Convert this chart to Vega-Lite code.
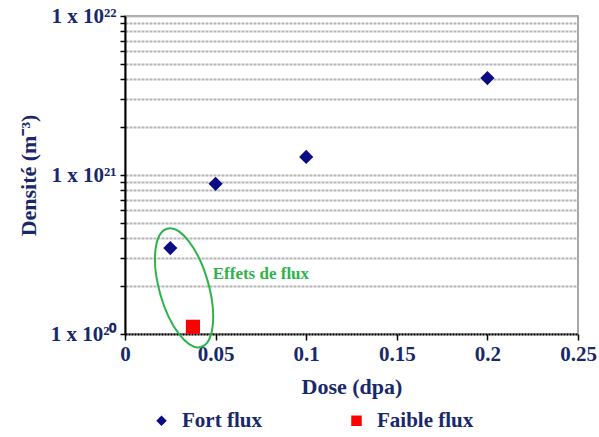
{
  "$schema": "https://vega.github.io/schema/vega-lite/v6.json",
  "width": 453,
  "height": 318,
  "autosize": "none",
  "padding": {"left": 125, "top": 16, "right": 21, "bottom": 103},
  "background": "white",
  "config": {
    "view": {"stroke": "#8c8c8c", "strokeWidth": 1.5},
    "font": "Liberation Serif",
    "axis": {"labelFont": "Liberation Serif", "titleFont": "Liberation Serif"},
    "legend": {"labelFont": "Liberation Serif"},
    "text": {"font": "Liberation Serif"}
  },
  "layer": [
    {
      "data": {"values": [
        {"dose": 0.025, "densite": 3.47e20, "serie": "Fort flux"},
        {"dose": 0.05, "densite": 8.8e20, "serie": "Fort flux"},
        {"dose": 0.1, "densite": 1.3e21, "serie": "Fort flux"},
        {"dose": 0.2, "densite": 4.07e21, "serie": "Fort flux"},
        {"dose": 0.0375, "densite": 1.11e20, "serie": "Faible flux"}
      ]},
      "mark": {"type": "point", "filled": true, "opacity": 1, "size": 200},
      "encoding": {
        "x": {
          "field": "dose", "type": "quantitative",
          "scale": {"domain": [0, 0.25], "nice": false, "zero": false},
          "axis": {
            "title": "Dose (dpa)",
            "values": [0, 0.05, 0.1, 0.15, 0.2, 0.25],
            "format": "~g",
            "grid": false,
            "labelFlush": false,
            "labelOverlap": false,
            "labelFont": "Liberation Serif", "titleFont": "Liberation Serif",
            "labelFontSize": 21, "labelFontWeight": "bold", "labelColor": "#18286A",
            "labelPadding": 3,
            "titleFontSize": 22, "titleFontWeight": "bold", "titleColor": "#18286A",
            "titlePadding": 12,
            "domainColor": "#000000", "domainWidth": 2, "domainDash": [2, 1],
            "tickColor": "#000000", "tickWidth": 1.5, "tickSize": 6
          }
        },
        "y": {
          "field": "densite", "type": "quantitative",
          "scale": {"type": "log", "domain": [1e20, 1e22], "nice": false},
          "axis": {
            "title": "Densité (m⁻³)",
            "values": [1e20, 2e20, 3e20, 4e20, 5e20, 6e20, 7e20, 8e20, 9e20, 1e21, 2e21, 3e21, 4e21, 5e21, 6e21, 7e21, 8e21, 9e21, 1e22],
            "labelExpr": "datum.value == 1e20 ? '1 x 10²⁰' : datum.value == 1e21 ? '1 x 10²¹' : datum.value == 1e22 ? '1 x 10²²' : ''",
            "labelOverlap": false,
            "labelFont": "Liberation Serif", "titleFont": "Liberation Serif",
            "labelFontSize": 21, "labelFontWeight": "bold", "labelColor": "#18286A",
            "labelPadding": 4,
            "titleFontSize": 22, "titleFontWeight": "bold", "titleColor": "#18286A",
            "titlePadding": 10,
            "grid": true, "gridColor": "#b5b5b5", "gridWidth": 2, "gridDash": [3, 1],
            "domainColor": "#000000", "domainWidth": 2,
            "tickColor": "#000000", "tickWidth": 1.5, "tickSize": 5
          }
        },
        "color": {
          "field": "serie", "type": "nominal",
          "scale": {"domain": ["Fort flux", "Faible flux"], "range": ["#0B0B84", "#FF0000"]},
          "legend": {
            "title": null,
            "orient": "none",
            "legendX": 26,
            "legendY": 394,
            "direction": "horizontal",
            "labelFont": "Liberation Serif",
            "labelFontSize": 21, "labelFontWeight": "bold", "labelColor": "#18286A",
            "labelOffset": 10,
            "symbolSize": 110,
            "columnPadding": 84,
            "symbolStrokeWidth": 0
          }
        },
        "shape": {
          "field": "serie", "type": "nominal",
          "scale": {"domain": ["Fort flux", "Faible flux"], "range": ["diamond", "square"]}
        }
      }
    },
    {
      "data": {"values": [{"dose": 0.0326, "densite": 1.95e20}]},
      "mark": {
        "type": "point",
        "shape": "M0,-1 A0.4,1 0 1,1 0,1 A0.4,1 0 1,1 0,-1 Z",
        "size": 15129,
        "angle": -16,
        "filled": false,
        "stroke": "#2DB34A",
        "strokeWidth": 2,
        "opacity": 1
      },
      "encoding": {
        "x": {"field": "dose", "type": "quantitative"},
        "y": {"field": "densite", "type": "quantitative"}
      }
    },
    {
      "data": {"values": [{"dose": 0.075, "densite": 2.38e20, "label": "Effets de flux"}]},
      "mark": {"type": "text", "font": "Liberation Serif", "fontSize": 17, "fontWeight": "bold", "color": "#2DB34A", "align": "center", "baseline": "middle"},
      "encoding": {
        "x": {"field": "dose", "type": "quantitative"},
        "y": {"field": "densite", "type": "quantitative"},
        "text": {"field": "label"}
      }
    }
  ]
}
